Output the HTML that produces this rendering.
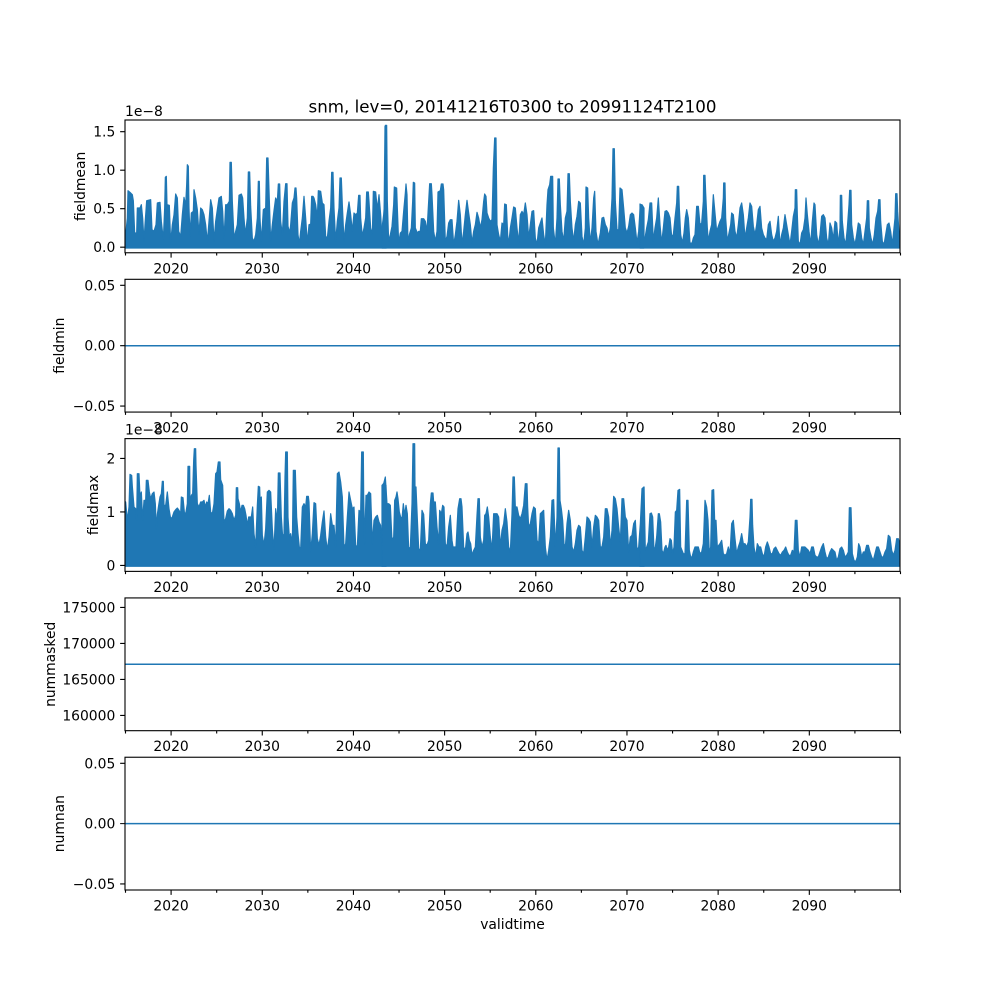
<!DOCTYPE html>
<html><head><meta charset="utf-8"><style>
html,body{margin:0;padding:0;background:#fff;}
svg{display:block;}
text{font-family:"DejaVu Sans","Liberation Sans",sans-serif;font-size:13.89px;fill:#000;}
.t{font-size:16.67px;}
.r{text-anchor:end;}
.c{text-anchor:middle;}
</style></head><body>
<svg width="1000" height="1000" viewBox="0 0 1000 1000" xmlns="http://www.w3.org/2000/svg">
<defs>
<clipPath id="c1"><rect x="125" y="120" width="775" height="132.76"/></clipPath>
<clipPath id="c3"><rect x="125" y="438.62" width="775" height="132.76"/></clipPath>
<path id="xt" d="M125.5,0v2.78M171.09,0v4.86M216.68,0v2.78M262.26,0v4.86M307.85,0v2.78M353.44,0v4.86M399.03,0v2.78M444.62,0v4.86M490.2,0v2.78M535.79,0v4.86M581.38,0v2.78M626.97,0v4.86M672.56,0v2.78M718.14,0v4.86M763.73,0v2.78M809.32,0v4.86M854.91,0v2.78M900.5,0v2.78" stroke="#000" stroke-width="1.11" fill="none"/>
</defs>
<rect width="1000" height="1000" fill="#fff"/>

<!-- Panel 1 data -->
<g clip-path="url(#c1)" fill="#1f77b4" stroke="#1f77b4" stroke-width="3.6" stroke-linejoin="round">
<rect x="125" y="242.5" width="775" height="5.5" stroke="none"/>
<g transform="translate(124,118) scale(0.33333)">
<polygon points="0,390 0,355 5,350 10,300 12,218 20,225 25,230 28,248 32,345 38,345 40,270 48,270 52,260 56,300 60,370 63,320 68,248 80,245 84,335 90,340 96,320 100,255 108,253 112,310 118,365 122,270 124,178 127,175 129,260 136,262 140,375 145,320 150,290 155,228 160,240 164,340 170,355 175,290 180,238 185,262 188,200 190,140 193,145 195,270 198,355 202,285 208,280 210,215 215,240 220,275 225,350 230,270 235,275 240,290 245,320 250,372 255,310 260,245 265,270 270,370 275,310 285,240 292,235 296,280 300,365 305,260 310,260 316,250 318,133 322,133 325,250 330,360 340,320 345,232 352,228 356,240 360,300 364,350 370,300 373,162 377,162 380,265 385,360 390,370 395,350 400,300 403,190 406,190 408,300 412,372 418,275 425,270 428,120 432,120 435,215 440,370 445,320 450,278 455,240 460,250 463,198 467,198 470,310 475,350 480,250 485,197 489,197 492,325 497,345 500,320 505,255 510,240 513,210 516,210 518,240 522,350 526,378 530,340 535,300 540,235 545,300 550,375 555,320 560,318 563,235 567,235 570,240 575,260 580,300 583,218 590,220 595,255 600,260 605,355 610,360 615,310 620,270 623,163 627,163 630,270 635,370 640,310 645,270 648,180 652,180 655,260 660,370 665,320 670,285 675,252 680,290 685,340 690,285 695,290 700,285 704,232 708,232 710,300 715,355 720,330 725,300 728,222 733,222 735,250 740,330 745,350 748,220 755,222 760,275 765,230 770,290 775,380 780,310 783,25 787,25 787,390"/>
</g>
<g transform="translate(382,118) scale(0.33333)">
<polygon points="0,390 0,330 5,290 8,250 10,22 14,22 16,250 20,370 25,350 30,325 35,260 37,207 44,210 46,270 50,375 55,345 60,340 65,280 70,225 72,198 75,230 78,375 82,350 88,330 92,250 94,193 98,195 100,330 106,345 110,340 115,340 118,302 125,302 130,310 135,340 140,250 143,197 148,197 150,230 155,340 160,370 165,340 168,222 175,218 178,198 183,198 185,215 190,370 195,355 200,315 205,305 210,305 215,380 220,350 225,310 230,247 235,290 240,380 245,340 250,290 255,247 260,285 265,320 270,375 275,340 280,320 285,283 290,300 295,330 300,305 305,250 308,228 312,235 315,285 320,300 325,310 330,305 334,150 338,60 342,60 345,320 350,350 355,370 360,315 365,320 368,258 373,260 377,350 380,380 385,330 390,300 395,267 400,270 405,330 410,375 415,290 420,280 425,290 430,255 435,290 440,360 445,320 450,280 455,278 460,360 465,380 470,330 475,315 480,300 485,350 490,380 495,260 498,215 503,200 506,175 512,175 514,330 520,380 525,300 528,183 532,183 535,260 540,340 545,370 550,300 555,280 558,167 562,167 565,250 570,330 575,370 580,320 585,295 590,250 595,255 600,355 605,380 610,330 612,207 617,210 620,300 625,375 630,330 635,240 638,220 642,340 648,380 655,345 660,300 665,298 670,320 675,330 680,355 685,330 690,240 693,92 697,92 700,250 705,335 710,335 714,210 720,215 725,270 730,330 735,345 740,325 745,290 750,285 755,290 760,330 765,375 770,340 775,260 780,260 786,270 786,390"/>
</g>
<g transform="translate(640,118) scale(0.33333)">
<polygon points="0,390 0,258 5,262 10,355 15,360 20,330 25,305 30,255 35,255 40,370 45,330 50,300 55,240 60,320 65,375 70,330 75,280 80,278 85,285 90,300 95,355 100,350 105,300 110,255 112,205 116,205 118,270 122,350 127,375 132,345 136,300 140,275 145,300 150,375 155,380 160,360 165,350 170,265 175,265 180,320 185,315 190,250 191,172 195,172 197,225 202,330 205,370 210,340 215,320 220,230 225,285 230,340 235,325 240,310 245,300 250,240 251,195 255,195 257,300 262,370 267,345 272,320 275,285 280,290 285,340 290,360 295,320 300,270 305,255 310,290 315,360 320,330 325,300 330,255 335,265 340,325 345,350 350,320 355,275 360,265 365,330 370,350 375,360 380,365 385,320 390,310 395,350 400,370 405,360 410,340 415,295 420,380 425,350 430,330 435,290 440,320 445,350 450,380 455,340 460,295 465,270 466,215 470,215 472,290 475,370 480,380 485,345 490,335 495,300 498,240 502,290 507,340 512,380 517,310 522,255 525,260 530,350 535,380 540,350 545,295 550,290 555,300 560,360 565,380 570,315 575,330 580,365 585,310 590,315 595,380 600,330 601,232 605,232 607,310 612,360 617,380 622,330 627,260 629,217 633,217 635,320 640,360 645,380 650,350 655,315 660,320 665,360 670,380 675,340 680,300 682,248 686,248 688,330 693,360 698,380 703,350 708,300 713,280 716,245 720,245 722,310 727,370 732,380 737,350 742,320 747,315 752,340 757,380 762,330 765,300 767,227 771,227 773,280 778,360 782,360 782,390"/>
</g>
</g>

<!-- Panel 3 data -->
<g clip-path="url(#c3)" fill="#1f77b4" stroke="#1f77b4" stroke-width="3.6" stroke-linejoin="round">
<rect x="125" y="560.5" width="775" height="6" stroke="none"/>
<g transform="translate(124,437) scale(0.33333)">
<polygon points="0,388 0,190 5,195 10,250 15,210 18,112 23,115 25,148 30,210 35,215 38,250 40,110 45,110 48,180 52,165 56,250 60,190 65,190 67,130 72,130 76,165 80,185 85,170 90,165 94,200 97,275 100,232 104,205 108,180 112,170 115,133 118,133 120,205 125,205 130,165 135,215 140,245 145,240 150,225 155,218 160,213 165,220 170,230 172,180 177,182 182,235 186,225 190,200 192,88 197,88 198,200 202,175 206,170 209,70 211,35 215,35 216,85 220,200 225,210 230,195 235,195 240,190 244,210 248,195 252,200 256,175 260,225 265,230 270,200 275,110 279,105 283,75 288,75 290,128 296,145 300,255 305,245 310,222 315,215 320,220 325,230 330,250 335,235 337,152 341,152 342,185 346,200 350,225 354,205 358,205 362,215 366,235 370,265 374,240 378,240 382,240 386,210 390,290 395,330 400,205 403,148 407,150 408,185 412,180 415,295 420,325 425,275 430,165 435,160 440,165 445,275 450,340 455,215 460,255 463,108 468,108 472,240 476,300 480,290 483,120 485,45 490,45 492,240 496,300 500,290 505,320 508,100 514,100 518,240 522,290 526,330 530,335 535,210 540,200 545,210 548,178 553,178 555,195 560,345 565,290 570,197 575,200 580,305 585,325 590,295 595,255 600,222 605,300 610,340 615,300 620,230 625,265 630,265 635,330 640,110 645,105 650,135 655,180 660,330 665,320 670,240 675,165 680,190 685,215 690,210 695,325 700,330 705,220 710,225 713,45 718,45 719,170 722,320 726,175 730,175 735,165 740,170 745,320 750,250 755,240 760,235 765,255 770,265 775,335 778,140 786,145 786,388"/>
</g>
<g transform="translate(382,437) scale(0.33333)">
<polygon points="0,388 0,145 5,140 10,120 15,200 20,200 25,205 30,310 35,300 38,190 42,180 45,165 48,185 52,225 56,240 60,245 64,200 68,235 72,205 76,230 80,335 85,330 90,200 93,20 98,20 99,150 102,150 106,245 110,335 115,340 120,220 125,232 130,320 135,325 140,310 145,200 148,168 153,168 155,195 160,195 165,270 170,320 173,220 178,230 182,205 186,210 190,320 195,330 200,270 205,235 210,310 213,330 216,330 222,330 228,215 233,185 237,185 240,210 245,330 250,340 255,290 258,285 262,310 266,320 270,355 275,340 280,330 285,235 288,185 292,185 295,300 300,330 305,310 308,235 312,230 316,210 320,240 325,300 330,340 335,230 340,230 345,230 350,240 355,330 360,280 365,260 370,215 375,255 380,330 385,345 390,230 393,120 397,120 400,210 405,210 410,235 415,245 420,230 425,205 430,140 435,140 437,210 440,270 445,260 450,230 455,210 460,215 465,310 470,320 475,230 480,225 485,220 490,330 495,370 500,340 505,300 510,190 515,188 520,330 525,240 528,33 532,33 534,190 538,215 542,250 546,320 550,330 555,260 560,220 565,250 570,330 575,345 580,320 585,280 590,265 595,270 600,340 605,350 610,300 615,240 620,245 625,255 630,330 635,270 640,235 645,240 650,250 655,330 660,330 665,300 670,215 675,215 680,240 685,330 690,280 695,178 700,185 705,215 710,270 715,315 720,185 725,185 730,240 735,250 740,345 745,300 750,295 755,260 760,250 765,340 770,330 775,260 780,155 786,150 786,388"/>
</g>
<g transform="translate(640,437) scale(0.33333)">
<polygon points="0,388 0,295 5,260 8,155 12,150 16,340 20,330 25,315 30,230 34,228 38,240 42,340 46,330 50,300 55,230 58,230 62,255 66,340 70,350 75,330 78,325 82,340 86,330 90,305 94,310 98,350 102,330 106,225 110,220 114,160 119,157 122,330 126,340 130,350 135,350 140,190 144,190 148,340 152,360 156,360 160,345 165,330 170,330 175,330 180,350 185,345 190,320 195,190 200,210 204,250 208,350 212,330 216,160 221,158 224,250 228,250 232,330 236,325 240,320 245,310 250,350 255,355 260,350 265,330 270,350 275,260 280,250 285,305 290,350 295,330 300,315 305,290 310,320 315,320 320,330 325,315 330,240 332,187 336,187 338,265 342,330 347,360 352,320 357,330 362,330 367,350 372,360 377,330 382,315 387,330 392,350 397,350 402,335 407,330 412,340 417,350 422,355 427,345 432,340 437,330 442,345 447,355 452,355 457,340 462,345 466,250 471,250 475,340 480,360 485,330 490,330 495,330 500,335 505,340 510,350 515,330 520,330 525,355 530,360 535,360 540,345 545,330 550,320 555,345 560,365 565,360 570,345 575,335 580,340 585,345 590,370 595,360 600,335 605,330 610,340 615,360 620,355 625,345 628,212 633,212 637,350 642,370 647,375 652,360 656,320 660,330 665,360 670,345 675,345 680,325 685,325 690,345 695,360 700,370 705,350 710,330 715,330 720,345 725,360 730,360 735,345 740,335 745,295 750,300 755,340 760,355 765,340 770,305 775,305 782,330 782,388"/>
</g>
</g>

<!-- constant lines -->
<g stroke="#1f77b4" stroke-width="1.5" fill="none">
<line x1="125" y1="345.69" x2="900" y2="345.69"/>
<line x1="125" y1="664.31" x2="900" y2="664.31"/>
<line x1="125" y1="823.62" x2="900" y2="823.62"/>
</g>

<!-- frames -->
<g fill="none" stroke="#000" stroke-width="1.11">
<rect x="125" y="120" width="775" height="132.76"/>
<rect x="125" y="279.31" width="775" height="132.76"/>
<rect x="125" y="438.62" width="775" height="132.76"/>
<rect x="125" y="597.93" width="775" height="132.76"/>
<rect x="125" y="757.24" width="775" height="132.76"/>
</g>

<!-- x ticks -->
<use href="#xt" transform="translate(0,252.76)"/>
<use href="#xt" transform="translate(0,412.07)"/>
<use href="#xt" transform="translate(0,571.38)"/>
<use href="#xt" transform="translate(0,730.69)"/>
<use href="#xt" transform="translate(0,890)"/>

<!-- y ticks -->
<path stroke="#000" stroke-width="1.11" fill="none" d="M125,247.2h-4.86M125,208.7h-4.86M125,170.2h-4.86M125,131.7h-4.86
M125,285.35h-4.86M125,345.69h-4.86M125,406.03h-4.86
M125,565.4h-4.86M125,511.9h-4.86M125,458.4h-4.86
M125,607.4h-4.86M125,643.4h-4.86M125,679.4h-4.86M125,715.4h-4.86
M125,763.28h-4.86M125,823.62h-4.86M125,883.96h-4.86"/>

<!-- x tick labels -->
<g class="c">
<text class="c" x="171.09" y="273.3">2020</text><text class="c" x="262.26" y="273.3">2030</text><text class="c" x="353.44" y="273.3">2040</text><text class="c" x="444.62" y="273.3">2050</text><text class="c" x="535.79" y="273.3">2060</text><text class="c" x="626.97" y="273.3">2070</text><text class="c" x="718.14" y="273.3">2080</text><text class="c" x="809.32" y="273.3">2090</text>
<text class="c" x="171.09" y="432.6">2020</text><text class="c" x="262.26" y="432.6">2030</text><text class="c" x="353.44" y="432.6">2040</text><text class="c" x="444.62" y="432.6">2050</text><text class="c" x="535.79" y="432.6">2060</text><text class="c" x="626.97" y="432.6">2070</text><text class="c" x="718.14" y="432.6">2080</text><text class="c" x="809.32" y="432.6">2090</text>
<text class="c" x="171.09" y="591.9">2020</text><text class="c" x="262.26" y="591.9">2030</text><text class="c" x="353.44" y="591.9">2040</text><text class="c" x="444.62" y="591.9">2050</text><text class="c" x="535.79" y="591.9">2060</text><text class="c" x="626.97" y="591.9">2070</text><text class="c" x="718.14" y="591.9">2080</text><text class="c" x="809.32" y="591.9">2090</text>
<text class="c" x="171.09" y="751.2">2020</text><text class="c" x="262.26" y="751.2">2030</text><text class="c" x="353.44" y="751.2">2040</text><text class="c" x="444.62" y="751.2">2050</text><text class="c" x="535.79" y="751.2">2060</text><text class="c" x="626.97" y="751.2">2070</text><text class="c" x="718.14" y="751.2">2080</text><text class="c" x="809.32" y="751.2">2090</text>
<text class="c" x="171.09" y="910.5">2020</text><text class="c" x="262.26" y="910.5">2030</text><text class="c" x="353.44" y="910.5">2040</text><text class="c" x="444.62" y="910.5">2050</text><text class="c" x="535.79" y="910.5">2060</text><text class="c" x="626.97" y="910.5">2070</text><text class="c" x="718.14" y="910.5">2080</text><text class="c" x="809.32" y="910.5">2090</text>
</g>

<!-- y tick labels -->
<text class="r" x="115.3" y="252.2">0.0</text>
<text class="r" x="115.3" y="213.7">0.5</text>
<text class="r" x="115.3" y="175.2">1.0</text>
<text class="r" x="115.3" y="136.7">1.5</text>
<text class="r" x="115.3" y="290.35">0.05</text>
<text class="r" x="115.3" y="350.69">0.00</text>
<text class="r" x="115.3" y="411.03">−0.05</text>
<text class="r" x="115.3" y="570.4">0</text>
<text class="r" x="115.3" y="516.9">1</text>
<text class="r" x="115.3" y="463.4">2</text>
<text class="r" x="115.3" y="612.4">175000</text>
<text class="r" x="115.3" y="648.4">170000</text>
<text class="r" x="115.3" y="684.4">165000</text>
<text class="r" x="115.3" y="720.4">160000</text>
<text class="r" x="115.3" y="768.28">0.05</text>
<text class="r" x="115.3" y="828.62">0.00</text>
<text class="r" x="115.3" y="888.96">−0.05</text>

<!-- offset texts -->
<text x="125" y="116">1e−8</text>
<text x="125" y="434.6">1e−8</text>

<!-- y labels -->
<text class="c" transform="translate(85,186.4) rotate(-90)">fieldmean</text>
<text class="c" transform="translate(64,345.69) rotate(-90)">fieldmin</text>
<text class="c" transform="translate(98,505) rotate(-90)">fieldmax</text>
<text class="c" transform="translate(55,664.31) rotate(-90)">nummasked</text>
<text class="c" transform="translate(64,823.62) rotate(-90)">numnan</text>

<!-- title and xlabel -->
<text class="t c" x="512.5" y="112.5">snm, lev=0, 20141216T0300 to 20991124T2100</text>
<text class="c" x="512.5" y="929">validtime</text>
</svg>
</body></html>
